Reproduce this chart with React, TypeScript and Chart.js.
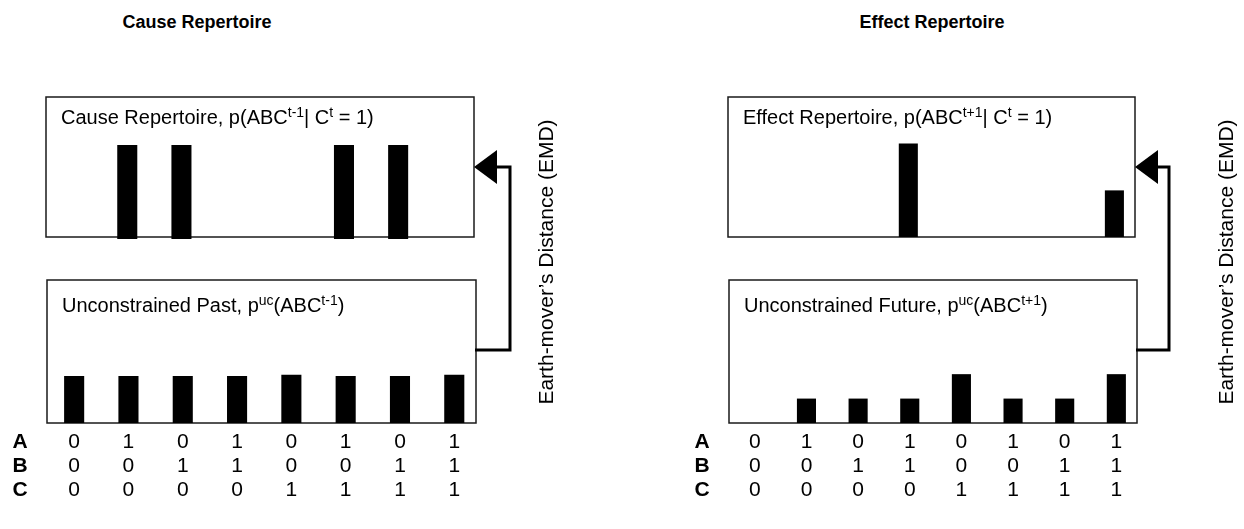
import React, { useEffect, useRef } from "react";
import { Chart, registerables } from "chart.js";

Chart.register(...registerables);

// System states, ordered A fastest, then B, then C
const states = [0, 1, 2, 3, 4, 5, 6, 7];
const rowNames = ["A", "B", "C"];
const rowA = ["0", "1", "0", "1", "0", "1", "0", "1"];
const rowB = ["0", "0", "1", "1", "0", "0", "1", "1"];
const rowC = ["0", "0", "0", "0", "1", "1", "1", "1"];

// Probability distributions over the eight states
const causeRepertoire = [0, 0.25, 0.25, 0, 0, 0.25, 0.25, 0];
const unconstrainedPast = [0.125, 0.125, 0.125, 0.125, 0.128, 0.125, 0.125, 0.128];
const effectRepertoire = [0, 0, 0, 0.667, 0, 0, 0, 0.333];
const unconstrainedFuture = [0, 0.111, 0.111, 0.111, 0.222, 0.111, 0.111, 0.222];

const panelTitles = ["Cause Repertoire", "Effect Repertoire"];
const emdLabel = "Earth-mover\u2019s Distance (EMD)";

type Seg = { t: string; sup?: boolean };
const causeLabel: Seg[] = [
  { t: "Cause Repertoire, p(ABC" }, { t: "t-1", sup: true }, { t: "| C" }, { t: "t", sup: true }, { t: " = 1)" },
];
const pastLabel: Seg[] = [
  { t: "Unconstrained Past, p" }, { t: "uc", sup: true }, { t: "(ABC" }, { t: "t-1", sup: true }, { t: ")" },
];
const effectLabel: Seg[] = [
  { t: "Effect Repertoire, p(ABC" }, { t: "t+1", sup: true }, { t: "| C" }, { t: "t", sup: true }, { t: " = 1)" },
];
const futureLabel: Seg[] = [
  { t: "Unconstrained Future, p" }, { t: "uc", sup: true }, { t: "(ABC" }, { t: "t+1", sup: true }, { t: ")" },
];

const FONT = "'Liberation Sans', Arial, Helvetica, sans-serif";
const PAGE_W = 1244;
const PAGE_H = 529;

type Rect = { x: number; y: number; w: number; h: number };

type BoxProps = {
  rect: Rect;
  values: number[];
  yMax: number;
  label: Seg[];
  labelBaseline: number;
  withTable?: boolean;
  barBase?: number;
};

const TABLE_LEFT = 40;

function BarBox({ rect, values, yMax, label, labelBaseline, withTable, barBase }: BoxProps) {
  const ref = useRef<HTMLCanvasElement | null>(null);

  const left = rect.x - (withTable ? TABLE_LEFT : 2);
  const top = rect.y - 2;
  const width = rect.w + (withTable ? TABLE_LEFT : 2) + 2;
  const height = withTable ? PAGE_H - top : rect.h + 4;

  useEffect(() => {
    const canvas = ref.current;
    if (!canvas) return;

    const framePlugin = {
      id: "frame",
      beforeDatasetsDraw(chart: any) {
        const { ctx, chartArea: a } = chart;
        ctx.save();
        ctx.strokeStyle = "#1a1a1a";
        ctx.lineWidth = 1.5;
        ctx.strokeRect(a.left, a.top, a.right - a.left, a.bottom - a.top);
        ctx.restore();
      },
    };

    const labelPlugin = {
      id: "boxLabel",
      afterDraw(chart: any) {
        const { ctx, chartArea: a } = chart;
        ctx.save();
        ctx.fillStyle = "#000";
        ctx.textBaseline = "alphabetic";
        let x = a.left + 15;
        const y = a.top + labelBaseline;
        for (const s of label) {
          ctx.font = s.sup ? `14px ${FONT}` : `20px ${FONT}`;
          ctx.fillText(s.t, x, s.sup ? y - 7 : y);
          x += ctx.measureText(s.t).width;
        }
        ctx.restore();
      },
    };

    const tablePlugin = {
      id: "stateTable",
      afterDraw(chart: any) {
        if (!withTable) return;
        const { ctx, chartArea: a } = chart;
        const xs = chart.scales.x;
        const rows = [rowA, rowB, rowC];
        ctx.save();
        ctx.fillStyle = "#000";
        ctx.textAlign = "center";
        ctx.textBaseline = "middle";
        rows.forEach((row, r) => {
          const y = a.bottom + 19 + r * 24;
          ctx.font = `bold 21px ${FONT}`;
          ctx.fillText(rowNames[r], a.left - 27, y);
          ctx.font = `21px ${FONT}`;
          row.forEach((v, i) => ctx.fillText(v, xs.getPixelForValue(states[i]), y));
        });
        ctx.restore();
      },
    };

    // Bars that hang slightly below the frame: empty states are left out so no stub shows.
    const dataset: any = {
      data: values.map((v, i) => ({ x: states[i], y: barBase !== undefined && v === 0 ? null : v })),
      backgroundColor: "#000",
      borderWidth: 0,
      barPercentage: 0.37,
      categoryPercentage: 1,
    };
    if (barBase !== undefined) {
      dataset.base = barBase;
      dataset.clip = { left: 0, top: 0, right: 0, bottom: 4 };
    }

    const chart = new Chart(canvas, {
      type: "bar",
      data: { datasets: [dataset] },
      options: {
        responsive: false,
        animation: false,
        events: [],
        layout: {
          padding: {
            left: rect.x - left,
            top: rect.y - top,
            right: left + width - (rect.x + rect.w),
            bottom: top + height - (rect.y + rect.h),
          },
        },
        plugins: { legend: { display: false }, tooltip: { enabled: false }, title: { display: false } },
        scales: {
          x: { type: "linear", display: false, offset: false, min: -0.5, max: 7.4 },
          y: { display: false, min: 0, max: yMax },
        },
      },
      plugins: [framePlugin, labelPlugin, tablePlugin],
    } as any);

    return () => chart.destroy();
  }, []);

  return (
    <canvas
      ref={ref}
      width={width}
      height={height}
      style={{ position: "absolute", left, top, width, height }}
    />
  );
}

function Title({ text, cx }: { text: string; cx: number }) {
  return (
    <div
      style={{
        position: "absolute",
        left: cx - 150,
        top: 12,
        width: 300,
        height: 24,
        lineHeight: "24px",
        textAlign: "center",
        font: `bold 18px ${FONT}`,
        color: "#000",
      }}
    >
      {text}
    </div>
  );
}

function EmdText({ cx, cy }: { cx: number; cy: number }) {
  return (
    <div
      style={{
        position: "absolute",
        left: cx - 170,
        top: cy - 12,
        width: 340,
        height: 24,
        lineHeight: "24px",
        textAlign: "center",
        font: `21px ${FONT}`,
        color: "#000",
        transform: "rotate(-90deg)",
        transformOrigin: "50% 50%",
        whiteSpace: "nowrap",
      }}
    >
      {emdLabel}
    </div>
  );
}

function EmdArrow({ boxRight, lineX, fromY, toY }: { boxRight: number; lineX: number; fromY: number; toY: number }) {
  const head = 22;
  return (
    <g>
      <polyline
        points={`${boxRight},${fromY} ${lineX},${fromY} ${lineX},${toY} ${boxRight + head - 2},${toY}`}
        fill="none"
        stroke="#000"
        strokeWidth={3}
      />
      <polygon points={`${boxRight - 1},${toY} ${boxRight + head},${toY - 17} ${boxRight + head},${toY + 17}`} fill="#000" />
    </g>
  );
}

export default function App() {
  return (
    <div
      style={{
        position: "absolute",
        left: 0,
        top: 0,
        width: PAGE_W,
        height: PAGE_H,
        background: "#fff",
        overflow: "hidden",
      }}
    >
      <Title text={panelTitles[0]} cx={197} />
      <Title text={panelTitles[1]} cx={932} />

      <BarBox rect={{ x: 46, y: 97, w: 428, h: 140 }} values={causeRepertoire} yMax={0.38} label={causeLabel} labelBaseline={27} barBase={-0.0055} />
      <BarBox rect={{ x: 47, y: 280, w: 429, h: 143 }} values={unconstrainedPast} yMax={0.38} label={pastLabel} labelBaseline={32} withTable />
      <BarBox rect={{ x: 728, y: 97, w: 407, h: 140 }} values={effectRepertoire} yMax={1.0} label={effectLabel} labelBaseline={27} />
      <BarBox rect={{ x: 729, y: 280, w: 408, h: 143 }} values={unconstrainedFuture} yMax={0.65} label={futureLabel} labelBaseline={32} withTable />

      <svg width={PAGE_W} height={PAGE_H} style={{ position: "absolute", left: 0, top: 0, pointerEvents: "none" }}>
        <EmdArrow boxRight={475} lineX={510} fromY={350} toY={167} />
        <EmdArrow boxRight={1136} lineX={1169} fromY={350} toY={167} />
      </svg>

      <EmdText cx={546} cy={262} />
      <EmdText cx={1226} cy={262} />
    </div>
  );
}
